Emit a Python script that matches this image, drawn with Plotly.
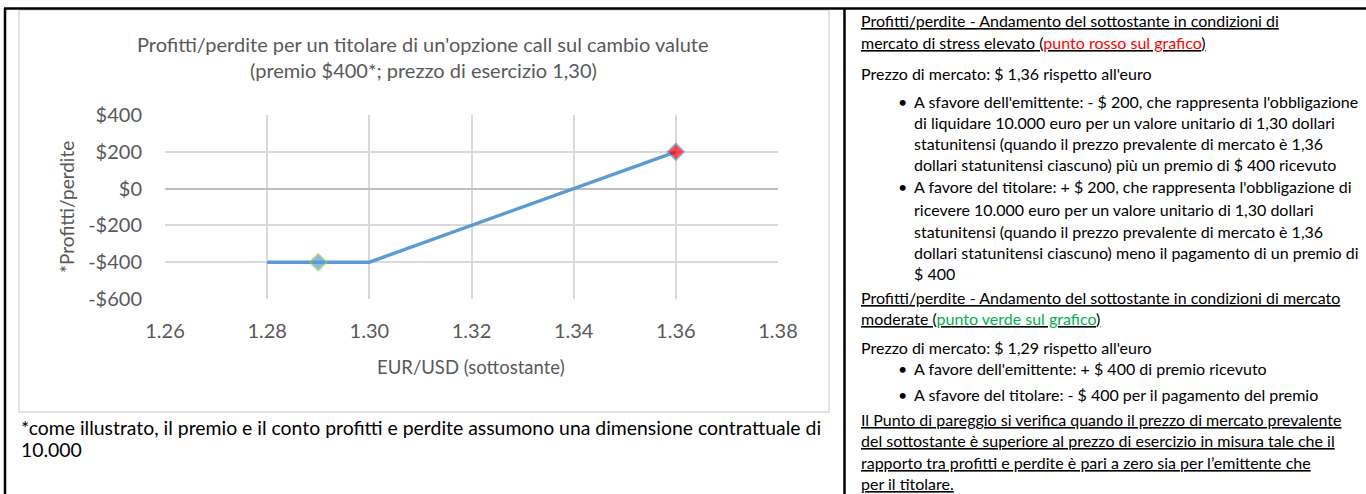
import plotly.graph_objects as go

# ---------------- data ----------------
fx_rate = [1.28, 1.29, 1.30, 1.36]          # EUR/USD (sottostante)
profit_loss = [-400, -400, -400, 200]       # Profitti/perdite ($)
highlight = [False, True, False, True]      # points shown with markers
marker_fill = ["#5B9BD5", "#5B9BD5", "#5B9BD5", "#FF0000"]
marker_edge = ["#5B9BD5", "#92D050", "#5B9BD5", "#5B9BD5"]

y_tick_vals = [-600, -400, -200, 0, 200, 400]
y_tick_text = ["-$600", "-$400", "-$200", "$0", "$200", "$400"]
x_tick_vals = [1.26, 1.28, 1.30, 1.32, 1.34, 1.36, 1.38]
x_tick_text = ["1.26", "1.28", "1.30", "1.32", "1.34", "1.36", "1.38"]

title_lines = [
    "Profitti/perdite per un titolare di un'opzione call sul cambio valute",
    "(premio $400*; prezzo di esercizio 1,30)",
]
x_title = "EUR/USD (sottostante)"
y_title = "*Profitti/perdite"
footnote_lines = [
    "*come illustrato, il premio e il conto profitti e perdite assumono una dimensione contrattuale di",
    "10.000",
]

# right column text: (kind, text, y)
RED = "#FF0000"
GREEN = "#00B050"
right_lines = [
    ("plain", "<u>Profitti/perdite - Andamento del sottostante in condizioni di</u>", 20),
    ("plain", "<u>mercato di stress elevato (<span style='color:%s'>punto rosso sul grafico</span>)</u>" % RED, 43),
    ("plain", "Prezzo di mercato: $ 1,36 rispetto all'euro", 73),
    ("bullet", "A sfavore dell'emittente: - $ 200, che rappresenta l'obbligazione", 101),
    ("indent", "di liquidare 10.000 euro per un valore unitario di 1,30 dollari", 122),
    ("indent", "statunitensi (quando il prezzo prevalente di mercato è 1,36", 143),
    ("indent", "dollari statunitensi ciascuno) più un premio di $ 400 ricevuto", 164),
    ("bullet", "A favore del titolare: + $ 200, che rappresenta l'obbligazione di", 187),
    ("indent", "ricevere 10.000 euro per un valore unitario di 1,30 dollari", 209),
    ("indent", "statunitensi (quando il prezzo prevalente di mercato è 1,36", 231),
    ("indent", "dollari statunitensi ciascuno) meno il pagamento di un premio di", 252),
    ("indent", "$ 400", 273),
    ("plain", "<u>Profitti/perdite - Andamento del sottostante in condizioni di mercato</u>", 297),
    ("plain", "<u>moderate (<span style='color:%s'>punto verde sul grafico</span>)</u>" % GREEN, 318),
    ("plain", "Prezzo di mercato: $ 1,29 rispetto all'euro", 347),
    ("bullet", "A favore dell'emittente: + $ 400 di premio ricevuto", 368),
    ("bullet", "A sfavore del titolare: - $ 400 per il pagamento del premio", 394),
    ("plain", "<u>Il Punto di pareggio si verifica quando il prezzo di mercato prevalente</u>", 419),
    ("plain", "<u>del sottostante è superiore al prezzo di esercizio in misura tale che il</u>", 440),
    ("plain", "<u>rapporto tra profitti e perdite è pari a zero sia per l’emittente che</u>", 462),
    ("plain", "<u>per il titolare.</u>", 483),
]

# ---------------- layout helpers ----------------
W, H = 1366, 494


def px(x):
    return x / W


def py(y):
    return 1 - y / H


FONT = "Lato"
GRAY_TXT = "#595959"

fig = go.Figure()

fig.add_trace(go.Scatter(
    x=fx_rate,
    y=profit_loss,
    mode="lines+markers",
    line=dict(color="#5B9BD5", width=3.4),
    marker=dict(
        symbol="diamond",
        size=[13 if h else 0 for h in highlight],
        color=marker_fill,
        line=dict(color=marker_edge, width=[1.5 if h else 0 for h in highlight]),
    ),
    showlegend=False,
    hoverinfo="x+y",
))

plot_l, plot_r, plot_t, plot_b = 165, 778, 115, 299

fig.update_layout(
    width=W,
    height=H,
    margin=dict(l=0, r=0, t=0, b=0, pad=0, autoexpand=False),
    paper_bgcolor="white",
    plot_bgcolor="white",
    font=dict(family=FONT, color=GRAY_TXT),
    xaxis=dict(
        domain=[px(plot_l), px(plot_r)],
        range=[1.26, 1.38],
        tickvals=x_tick_vals,
        ticktext=x_tick_text,
        showgrid=True,
        gridcolor="#D9D9D9",
        gridwidth=1.5,
        zeroline=False,
        showline=False,
        ticks="outside",
        ticklen=14,
        tickcolor="rgba(0,0,0,0)",
        tickfont=dict(family=FONT, size=20, color=GRAY_TXT),
        fixedrange=True,
        automargin=False,
    ),
    yaxis=dict(
        domain=[py(plot_b), py(plot_t)],
        range=[-600, 400],
        tickvals=y_tick_vals,
        ticktext=y_tick_text,
        showgrid=True,
        gridcolor="#D9D9D9",
        gridwidth=1.5,
        zeroline=True,
        zerolinecolor="#BFBFBF",
        zerolinewidth=1.5,
        showline=False,
        ticks="outside",
        ticklen=18,
        tickcolor="rgba(0,0,0,0)",
        tickfont=dict(family=FONT, size=20, color=GRAY_TXT),
        fixedrange=True,
        automargin=False,
    ),
)

shapes = []
# chart frame
shapes.append(dict(type="rect", xref="paper", yref="paper",
                   x0=px(19), x1=px(829), y0=py(412), y1=py(10),
                   line=dict(color="#D9D9D9", width=1.5), layer="below"))
# table borders
shapes.append(dict(type="line", xref="paper", yref="paper",
                   x0=px(4), x1=px(1366), y0=py(8.5), y1=py(8.5),
                   line=dict(color="black", width=2.5)))
shapes.append(dict(type="line", xref="paper", yref="paper",
                   x0=px(5), x1=px(5), y0=py(8), y1=py(494),
                   line=dict(color="black", width=2.5)))
shapes.append(dict(type="line", xref="paper", yref="paper",
                   x0=px(844.5), x1=px(844.5), y0=py(8), y1=py(494),
                   line=dict(color="black", width=2.5)))
fig.update_layout(shapes=shapes)

ann = []
# chart title
for txt, y in zip(title_lines, [44, 70]):
    ann.append(dict(text=txt, xref="paper", yref="paper", x=px(423), y=py(y),
                    xanchor="center", yanchor="middle", showarrow=False,
                    font=dict(family=FONT, size=20, color=GRAY_TXT)))
# axis titles
ann.append(dict(text=x_title, xref="paper", yref="paper", x=px(471), y=py(367),
                xanchor="center", yanchor="middle", showarrow=False,
                font=dict(family=FONT, size=18.5, color=GRAY_TXT)))
ann.append(dict(text=y_title, xref="paper", yref="paper", x=px(66), y=py(207),
                xanchor="center", yanchor="middle", showarrow=False, textangle=-90,
                font=dict(family=FONT, size=19, color=GRAY_TXT)))
# footnote
for txt, y in zip(footnote_lines, [427, 449]):
    ann.append(dict(text=txt, xref="paper", yref="paper", x=px(19), y=py(y),
                    xanchor="left", yanchor="middle", showarrow=False,
                    font=dict(family=FONT, size=19.4, color="black")))
# right column
for kind, txt, y in right_lines:
    x = 859 if kind == "plain" else 912
    ann.append(dict(text=txt, xref="paper", yref="paper", x=px(x), y=py(y),
                    xanchor="left", yanchor="middle", showarrow=False,
                    font=dict(family=FONT, size=16, color="black")))
    if kind == "bullet":
        ann.append(dict(text="•", xref="paper", yref="paper", x=px(902), y=py(y),
                        xanchor="center", yanchor="middle", showarrow=False,
                        font=dict(family=FONT, size=16, color="black")))
fig.update_layout(annotations=ann)

fig.write_html(
    "out.html",
    config={"displayModeBar": False},
    post_script="document.body.style.margin='0';document.body.style.overflow='hidden';",
)
